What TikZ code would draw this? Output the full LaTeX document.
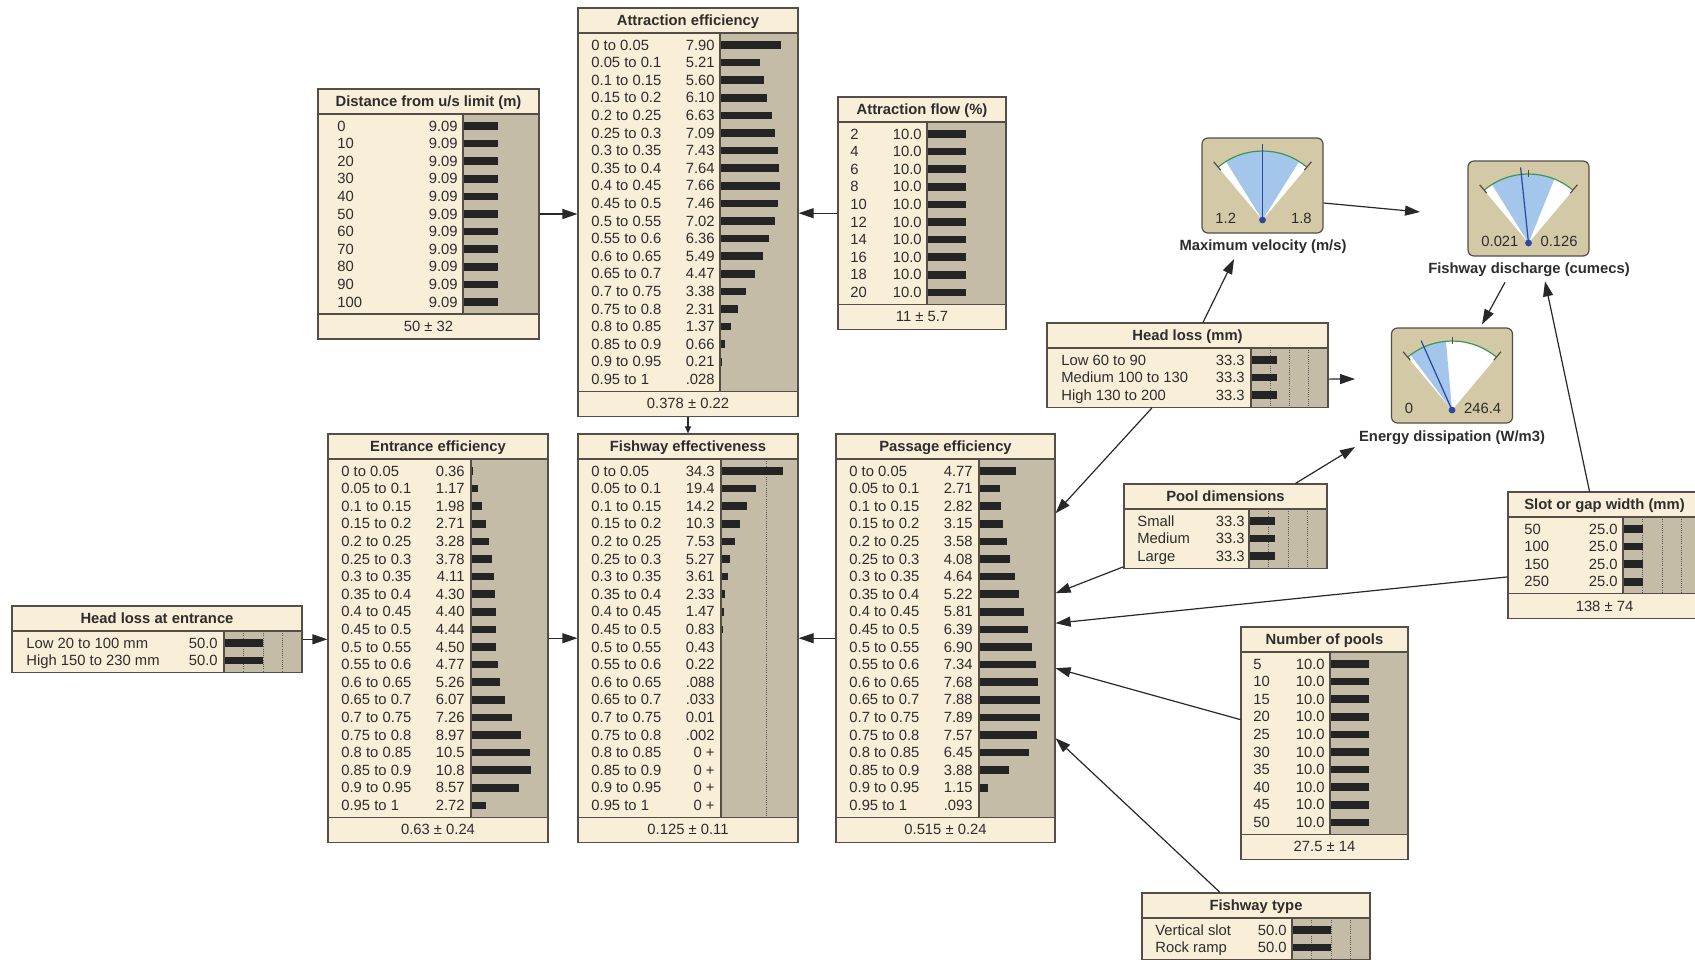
\documentclass[tikz,border=0pt]{standalone}
\usepackage{fontspec}
\setmainfont{Liberation Sans}
\usetikzlibrary{arrows.meta,calc}
\definecolor{cream}{RGB}{249,238,216}
\definecolor{graybg}{RGB}{197,188,168}
\definecolor{bord}{RGB}{85,78,70}
\definecolor{barc}{RGB}{36,36,36}
\definecolor{txt}{RGB}{45,45,45}
\definecolor{gaugebg}{RGB}{212,201,166}
\definecolor{wedgec}{RGB}{164,198,234}
\definecolor{needlec}{RGB}{45,70,160}
\definecolor{arcg}{RGB}{60,150,90}
\definecolor{arrc}{RGB}{40,40,40}
\tikzset{
  rowtext/.style={font=\fontsize{7.4}{8}\selectfont, text=txt, inner sep=0pt},
  titletext/.style={font=\fontsize{7.4}{8}\selectfont\bfseries, text=txt, inner sep=0pt},
  arr/.style={draw=arrc, line width=0.6pt, -{Triangle[length=7.5pt,width=5pt]}},
  arrsmall/.style={draw=arrc, line width=0.6pt, -{Triangle[length=3.5pt,width=3pt]}},
  dotl/.style={draw=black!65, line width=0.35pt, dash pattern=on 0.5pt off 0.6pt},
  sep/.style={draw=bord, line width=0.6pt},
}
% frame of a table node: L R T G nrows title
\newcommand\bnbox[6]{%
  \pgfmathsetmacro\bnTB{#3+25}%
  \pgfmathsetmacro\bnBB{#3+49+(#5-1)*17.6}%
  \pgfmathsetmacro\bnFirst{#3+37}%
  \fill[cream] (#1,#3) rectangle (#2,\bnBB);
  \fill[graybg] (#4,\bnTB) rectangle (#2,\bnBB);
  \node[titletext,anchor=base] at ({(#1+#2)/2},{#3+17.5}) {#6};
}
% dotted guide lines: G R scale
\newcommand\bndots[3]{%
  \foreach \d in {25,50,75}{%
    \pgfmathsetmacro\dx{#1+\d*#3}%
    \pgfmathparse{\dx<#2-1?1:0}%
    \ifnum\pgfmathresult=1
      \draw[dotl] (\dx,\bnTB) -- (\dx,\bnBB);
    \fi
  }%
}
% rows: labx valx G scale list
\newcommand\bnrows[5]{%
  \foreach \lab/\val/\p [count=\i from 0] in {#5}{%
    \pgfmathsetmacro\yy{\bnFirst+\i*17.6}%
    \pgfmathsetmacro\bw{\p*#4}%
    \node[rowtext,anchor=base west] at (#1,{\yy+5}) {\lab};
    \node[rowtext,anchor=base east] at (#2,{\yy+5}) {\val};
    \fill[barc] (#3,{\yy-3.8}) rectangle ({#3+\bw},{\yy+3.8});
  }%
}
% separators: L R G
\newcommand\bnsep[3]{%
  \draw[sep] (#1,\bnTB) -- (#2,\bnTB) (#3,\bnTB) -- (#3,\bnBB);
}
% footer: L R text
\newcommand\bnfoot[3]{%
  \pgfmathsetmacro\bnFB{\bnBB+25}%
  \fill[cream] (#1,\bnBB) rectangle (#2,\bnFB);
  \draw[sep] (#1,\bnBB) -- (#2,\bnBB);
  \node[rowtext,anchor=base] at ({(#1+#2)/2},{\bnBB+17.5}) {#3};
}
% named outline: name L R T B
\newcommand\bnframe[5]{%
  \pgfmathsetmacro\bnW{(#3-#2)*0.5}%
  \pgfmathsetmacro\bnH{(#5-#4)*0.5}%
  \node[draw=bord,line width=0.6pt,inner sep=0pt,minimum width=\bnW pt,minimum height=\bnH pt] (#1) at ({(#2+#3)/2},{(#4+#5)/2}) {};
}
% gauge: name cx top a1 a2 needle leftlab rightlab toptick
\newcommand\gauge[9]{%
  \node[draw=bord,line width=0.6pt,fill=gaugebg,rounded corners=3pt,minimum width=60.5pt,minimum height=47.5pt,inner sep=0pt] (#1) at (#2,{#3+47.5}) {};
  \begin{scope}[shift={(#2,{#3+82})}]
    \fill[white] (0,0) -- (50:34.5pt) arc[start angle=50,end angle=130,radius=34.5pt] -- cycle;
    \fill[wedgec] (0,0) -- (#4:34.5pt) arc[start angle=#4,end angle=#5,radius=34.5pt] -- cycle;
    \draw[arcg,line width=0.6pt] (50:34.5pt) arc[start angle=50,end angle=130,radius=34.5pt];
    \draw[bord,line width=0.6pt] (50:32.5pt) -- (50:38pt) (130:32.5pt) -- (130:38pt);
    \ifnum#9=1 \draw[bord,line width=0.5pt] (90:33pt) -- (90:36.5pt);\fi
    \draw[needlec,line width=0.6pt] (0,0) -- (#6:38pt);
    \fill[needlec] (0,0) circle[radius=1.7pt];
  \end{scope}
  \node[rowtext,anchor=base west] at ({#2-47.5},{#3+85}) {#7};
  \node[rowtext,anchor=base east] at ({#2+49.5},{#3+85}) {#8};
}
\begin{document}
\begin{tikzpicture}[x=0.5pt,y=-0.5pt]
\useasboundingbox (0,0) rectangle (1695,959);
\fill[white] (0,0) rectangle (1695,959);
\clip (0,0) rectangle (1695,959);

% ---------- Distance from u/s limit
\bnbox{318}{539}{89}{463}{11}{Distance from u/s limit (m)}
\bnrows{337}{458}{463}{3.85}{0/9.09/9.09,10/9.09/9.09,20/9.09/9.09,30/9.09/9.09,40/9.09/9.09,50/9.09/9.09,60/9.09/9.09,70/9.09/9.09,80/9.09/9.09,90/9.09/9.09,100/9.09/9.09}
\bnsep{318}{539}{463}
\bnfoot{318}{539}{50 ± 32}
\bnframe{dist}{318}{539}{89}{\bnFB}

% ---------- Attraction efficiency
\bnbox{578}{798}{8}{720}{20}{Attraction efficiency}
\bnrows{591}{715}{720}{7.77}{0 to 0.05/7.90/7.90,0.05 to 0.1/5.21/5.21,0.1 to 0.15/5.60/5.60,0.15 to 0.2/6.10/6.10,0.2 to 0.25/6.63/6.63,0.25 to 0.3/7.09/7.09,0.3 to 0.35/7.43/7.43,0.35 to 0.4/7.64/7.64,0.4 to 0.45/7.66/7.66,0.45 to 0.5/7.46/7.46,0.5 to 0.55/7.02/7.02,0.55 to 0.6/6.36/6.36,0.6 to 0.65/5.49/5.49,0.65 to 0.7/4.47/4.47,0.7 to 0.75/3.38/3.38,0.75 to 0.8/2.31/2.31,0.8 to 0.85/1.37/1.37,0.85 to 0.9/0.66/0.66,0.9 to 0.95/0.21/0.21,0.95 to 1/.028/0.028}
\bnsep{578}{798}{720}
\bnfoot{578}{798}{0.378 ± 0.22}
\bnframe{attreff}{578}{798}{8}{\bnFB}

% ---------- Attraction flow
\bnbox{838}{1006}{97}{927}{10}{Attraction flow (\%)}
\bnrows{850}{922}{927}{3.9}{2/10.0/10,4/10.0/10,6/10.0/10,8/10.0/10,10/10.0/10,12/10.0/10,14/10.0/10,16/10.0/10,18/10.0/10,20/10.0/10}
\bnsep{838}{1006}{927}
\bnfoot{838}{1006}{11 ± 5.7}
\bnframe{attflow}{838}{1006}{97}{\bnFB}

% ---------- Entrance efficiency
\bnbox{328}{548}{434}{471}{20}{Entrance efficiency}
\bnrows{341}{465}{471}{5.6}{0 to 0.05/0.36/0.36,0.05 to 0.1/1.17/1.17,0.1 to 0.15/1.98/1.98,0.15 to 0.2/2.71/2.71,0.2 to 0.25/3.28/3.28,0.25 to 0.3/3.78/3.78,0.3 to 0.35/4.11/4.11,0.35 to 0.4/4.30/4.30,0.4 to 0.45/4.40/4.40,0.45 to 0.5/4.44/4.44,0.5 to 0.55/4.50/4.50,0.55 to 0.6/4.77/4.77,0.6 to 0.65/5.26/5.26,0.65 to 0.7/6.07/6.07,0.7 to 0.75/7.26/7.26,0.75 to 0.8/8.97/8.97,0.8 to 0.85/10.5/10.5,0.85 to 0.9/10.8/10.8,0.9 to 0.95/8.57/8.57,0.95 to 1/2.72/2.72}
\bnsep{328}{548}{471}
\bnfoot{328}{548}{0.63 ± 0.24}
\bnframe{enteff}{328}{548}{434}{\bnFB}

% ---------- Fishway effectiveness
\bnbox{578}{798}{434}{721}{20}{Fishway effectiveness}
\bndots{721}{798}{1.8}
\bnrows{591}{715}{721}{1.8}{0 to 0.05/34.3/34.3,0.05 to 0.1/19.4/19.4,0.1 to 0.15/14.2/14.2,0.15 to 0.2/10.3/10.3,0.2 to 0.25/7.53/7.53,0.25 to 0.3/5.27/5.27,0.3 to 0.35/3.61/3.61,0.35 to 0.4/2.33/2.33,0.4 to 0.45/1.47/1.47,0.45 to 0.5/0.83/0.83,0.5 to 0.55/0.43/0.43,0.55 to 0.6/0.22/0.22,0.6 to 0.65/.088/0.088,0.65 to 0.7/.033/0.033,0.7 to 0.75/0.01/0.01,0.75 to 0.8/.002/0.002,0.8 to 0.85/0 +/0,0.85 to 0.9/0 +/0,0.9 to 0.95/0 +/0,0.95 to 1/0 +/0}
\bnsep{578}{798}{721}
\bnfoot{578}{798}{0.125 ± 0.11}
\bnframe{fwe}{578}{798}{434}{\bnFB}

% ---------- Passage efficiency
\bnbox{836}{1055}{434}{979}{20}{Passage efficiency}
\bnrows{849}{973}{979}{7.7}{0 to 0.05/4.77/4.77,0.05 to 0.1/2.71/2.71,0.1 to 0.15/2.82/2.82,0.15 to 0.2/3.15/3.15,0.2 to 0.25/3.58/3.58,0.25 to 0.3/4.08/4.08,0.3 to 0.35/4.64/4.64,0.35 to 0.4/5.22/5.22,0.4 to 0.45/5.81/5.81,0.45 to 0.5/6.39/6.39,0.5 to 0.55/6.90/6.90,0.55 to 0.6/7.34/7.34,0.6 to 0.65/7.68/7.68,0.65 to 0.7/7.88/7.88,0.7 to 0.75/7.89/7.89,0.75 to 0.8/7.57/7.57,0.8 to 0.85/6.45/6.45,0.85 to 0.9/3.88/3.88,0.9 to 0.95/1.15/1.15,0.95 to 1/.093/0.093}
\bnsep{836}{1055}{979}
\bnfoot{836}{1055}{0.515 ± 0.24}
\bnframe{paseff}{836}{1055}{434}{\bnFB}

% ---------- Head loss at entrance
\bnbox{12}{302}{606}{224}{2}{Head loss at entrance}
\bndots{224}{302}{0.78}
\bnrows{26}{218}{224}{0.78}{Low 20 to 100 mm/50.0/50,High 150 to 230 mm/50.0/50}
\bnsep{12}{302}{224}
\bnframe{hle}{12}{302}{606}{\bnBB}

% ---------- Head loss (mm)
\bnbox{1047}{1328}{323}{1251}{3}{Head loss (mm)}
\bndots{1251}{1328}{0.77}
\bnrows{1061}{1245}{1251}{0.77}{Low 60 to 90/33.3/33.3,Medium 100 to 130/33.3/33.3,High 130 to 200/33.3/33.3}
\bnsep{1047}{1328}{1251}
\bnframe{hl}{1047}{1328}{323}{\bnBB}

% ---------- Pool dimensions
\bnbox{1124}{1327}{484}{1249}{3}{Pool dimensions}
\bndots{1249}{1327}{0.78}
\bnrows{1137}{1245}{1249}{0.78}{Small/33.3/33.3,Medium/33.3/33.3,Large/33.3/33.3}
\bnsep{1124}{1327}{1249}
\bnframe{pool}{1124}{1327}{484}{\bnBB}

% ---------- Slot or gap width
\bnbox{1508}{1701}{492}{1623}{4}{Slot or gap width (mm)}
\bndots{1623}{1701}{0.78}
\bnrows{1524}{1618}{1623}{0.78}{50/25.0/25,100/25.0/25,150/25.0/25,250/25.0/25}
\bnsep{1508}{1701}{1623}
\bnfoot{1508}{1701}{138 ± 74}
\bnframe{slot}{1508}{1701}{492}{\bnFB}

% ---------- Number of pools
\bnbox{1241}{1408}{627}{1330}{10}{Number of pools}
\bnrows{1253}{1325}{1330}{3.9}{5/10.0/10,10/10.0/10,15/10.0/10,20/10.0/10,25/10.0/10,30/10.0/10,35/10.0/10,40/10.0/10,45/10.0/10,50/10.0/10}
\bnsep{1241}{1408}{1330}
\bnfoot{1241}{1408}{27.5 ± 14}
\bnframe{npools}{1241}{1408}{627}{\bnFB}

% ---------- Fishway type
\bnbox{1142}{1370}{893}{1292}{2}{Fishway type}
\bndots{1292}{1370}{0.78}
\bnrows{1155}{1287}{1292}{0.78}{Vertical slot/50.0/50,Rock ramp/50.0/50}
\bnsep{1142}{1370}{1292}
\bnframe{ftype}{1142}{1370}{893}{\bnBB}

% ---------- Gauges
\gauge{maxvel}{1262.5}{138}{58}{122}{90}{1.2}{1.8}{0}
\node[titletext] (maxvelL) at (1263,247) {Maximum velocity (m/s)};
\gauge{disch}{1528.5}{161}{68}{122}{96}{0.021}{0.126}{1}
\node[titletext] (dischL) at (1529,270) {Fishway discharge (cumecs)};
\gauge{energy}{1452}{328}{95}{127}{114}{0}{246.4}{1}
\node[titletext] (energyL) at (1452,438) {Energy dissipation (W/m3)};

% ---------- Connectors
\draw[arr] (dist.east) -- (attreff.west |- dist.east);
\draw[arr] (attflow.west) -- (attreff.east |- attflow.west);
\draw[arrsmall] (attreff.south) -- (fwe.north);
\draw[arr] (hle.east) -- (enteff.west |- hle.east);
\draw[arr] (enteff.east) -- (fwe.west);
\draw[arr] (paseff.west) -- (fwe.east);

\draw[arr] ($(hl.north)+(15.5,0)$) -- ($(maxvel.center)+(-28.5,73.5)$);
\draw[arr] ($(hl.east)+(0,14)$) -- ($(energy.center)+(-97,3.5)$);
\draw[arr] ($(maxvel.east)+(0,17.5)$) -- ($(disch.center)+(-108.5,3.5)$);
\draw[arr] ($(dischL.south)+(-24,5)$) -- ($(energy.north)+(30,-3)$);
\draw[arr] ($(slot.north)+(-15,0)$) -- ($(dischL.south)+(16,4)$);
\draw[arr] ($(pool.north)+(70,0)$) -- ($(energy.center)+(-97,71.5)$);

\draw[arr] ($(hl.south)+(-35.5,0)$) -- ($(paseff.east)+(0,-125)$);
\draw[arr] ($(pool.south west)+(0,-2)$) -- ($(paseff.east)+(0,-45)$);
\draw[arr] ($(slot.west)+(0,21.5)$) -- ($(paseff.east)+(0,-15)$);
\draw[arr] ($(npools.west)+(0,-23.6)$) -- ($(paseff.east)+(0,30)$);
\draw[arr] ($(ftype.north)+(-36,0)$) -- ($(paseff.east)+(0,100)$);
\end{tikzpicture}
\end{document}
